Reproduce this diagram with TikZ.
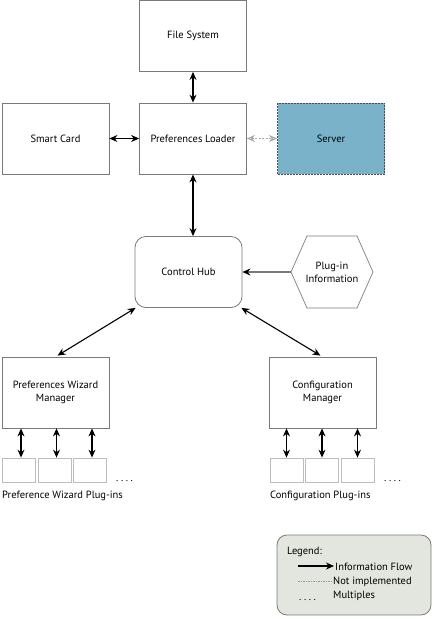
\documentclass[tikz,border=0pt]{standalone}
\usepackage{fontspec}
\setmainfont{PT Sans}
\usetikzlibrary{arrows.meta,shapes.geometric,calc}
\definecolor{boxline}{HTML}{7A7A7A}
\definecolor{plugline}{HTML}{BDBDBD}
\definecolor{serverfill}{HTML}{7AB3C9}
\definecolor{legfill}{HTML}{E3E5DF}
\newcommand{\fourdots}{.\hspace{2.6pt}.\hspace{2.6pt}.\hspace{2.6pt}.}
\tikzset{
  box/.style={draw=boxline, line width=0.8pt, minimum width=107pt, minimum height=71pt, align=center, font=\fontsize{10.5}{13}\selectfont, inner sep=1pt},
  plug/.style={draw=plugline, line width=0.8pt, minimum width=33pt, minimum height=24pt, inner sep=0pt},
  dbl/.style={{Stealth[length=8pt,width=7pt]}-{Stealth[length=8pt,width=7pt]}, line width=1.1pt, black},
  sgl/.style={-{Stealth[length=8pt,width=7pt]}, line width=1.1pt},
  lbl/.style={font=\fontsize{10.5}{13}\selectfont, inner sep=0pt},
  dots/.style={font=\fontsize{10.5}{13}\selectfont, inner sep=0pt}
}
\begin{document}
\begin{tikzpicture}[x=1pt,y=-1pt]
\useasboundingbox (0,0) rectangle (434,619);
\node[box] (fs) at (193,36) {File System};
\node[box] (pl) at (193,138.5) {Preferences Loader};
\node[box] (sc) at (55.5,138.5) {Smart Card};
\node[box, fill=serverfill, draw=black!70, dashed, dash pattern=on 2pt off 1pt] (srv) at (331,138.5) {Server};
\node[box, rounded corners=11pt] (hub) at (188.5,272) {Control Hub};
% hexagon
\draw[draw=boxline, line width=0.7pt] (291,272) -- (307,236) -- (357,236) -- (373,272) -- (357,308) -- (307,308) -- cycle;
\coordinate (hexw) at (291,272);
\node[align=center, font=\fontsize{10.5}{13}\selectfont, inner sep=0pt] (hex) at (332,272) {Plug-in\\Information};
\node[box] (pwm) at (55.5,392.5) {Preferences Wizard\\Manager};
\node[box] (cm) at (322.5,392.5) {Configuration\\Manager};
% plug-in boxes
\node[plug] (a1) at (19,470) {};
\node[plug] (a2) at (54.5,470) {};
\node[plug] (a3) at (90,470) {};
\node[plug] (b1) at (286.5,470) {};
\node[plug] (b2) at (322,470) {};
\node[plug] (b3) at (357.5,470) {};
\node[dots, anchor=base west] (ad) at (116,481) {\fourdots};
\node[dots, anchor=base west] (bd) at (384,481) {\fourdots};
\node[lbl, anchor=base west] (al) at (2,498) {Preference Wizard Plug-ins};
\node[lbl, anchor=base west] (bl) at (270,498) {Configuration Plug-ins};
% connectors
\draw[dbl] (fs) -- (pl);
\draw[dbl] (sc) -- (pl);
\draw[{Stealth[open,length=8pt,width=7pt]}-{Stealth[open,length=8pt,width=7pt]}, black!35, line width=1pt, dash pattern=on 2pt off 1.5pt] (pl) -- (srv);
\draw[dbl] (pl.south) -- (pl.south |- hub.north);
\draw[line width=1.3pt, boxline, -{Stealth[length=8pt,width=7pt,black]}] (hexw) -- (hub.east);
\draw[dbl] ($(hub.south west)+(1,0)$) -- ($(pwm.north)+(2,-1)$);
\draw[dbl] ($(hub.south east)+(-1,0)$) -- ($(cm.north)+(-2,-1)$);
\foreach \p in {a1,a2,a3} {\draw[dbl] ($(\p.north |- pwm.south)+(2,0)$) -- ($(\p.north)+(2,0)$);}
\foreach \p in {b1,b2,b3} {\draw[dbl] ($(\p.north |- cm.south)$) -- (\p.north);}
% legend
\node[draw=boxline, line width=0.8pt, fill=legfill, rounded corners=10pt, minimum width=154pt, minimum height=80pt] (leg) at (354,575) {};
\node[lbl, anchor=base west] (lt) at (287,554) {Legend:};
\coordinate (l1a) at (298,566);
\coordinate (l1b) at (334,566);
\draw[sgl] (l1a) -- (l1b);
\node[lbl, anchor=base west] (lf) at (335,570) {Information Flow};
\coordinate (l2a) at (298,581);
\coordinate (l2b) at (331,581);
\draw[black!40, line width=0.6pt, dash pattern=on 1.5pt off 1pt] (l2a) -- (l2b);
\node[lbl, anchor=base west] (ln) at (333,584) {Not implemented};
\node[dots, anchor=base west] (ldots) at (299,600) {\fourdots};
\node[lbl, anchor=base west] (lm) at (333,598) {Multiples};
\end{tikzpicture}
\end{document}
